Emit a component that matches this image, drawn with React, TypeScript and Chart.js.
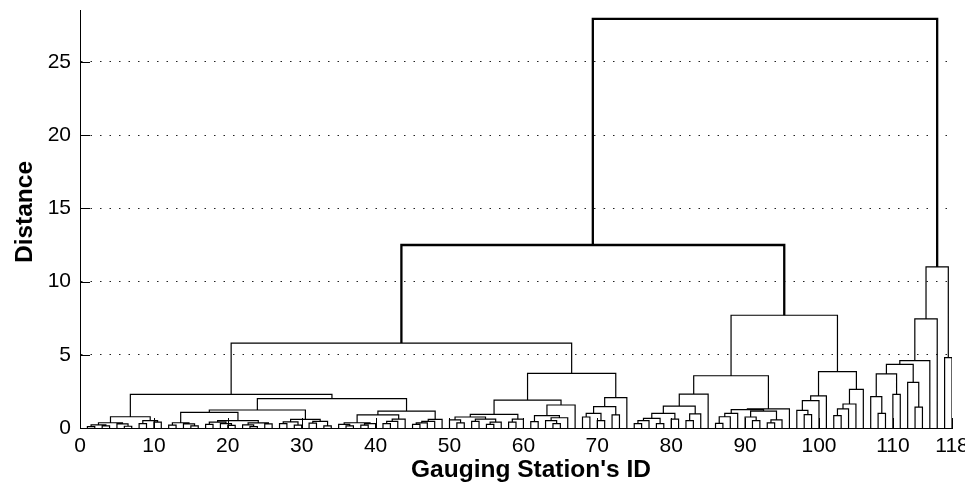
import React, { useEffect, useRef } from "react";
import { Chart, registerables } from "chart.js";

Chart.register(...registerables);

// ---- axis values ----
const xTickValues = [0, 10, 20, 30, 40, 50, 60, 70, 80, 90, 100, 110, 118];
const yTickValues = [0, 5, 10, 15, 20, 25];
const xRange = [0, 118];
const yRange = [0, 28.55];
const xTitle = "Gauging Station's ID";
const yTitle = "Distance";

// ---- dendrogram sub-clusters: [mergeHeight, left, right]; a number is a leaf (station order) ----
const clusterL1a = [0.77, [0.36, [0.22, [0.1, 1, 2], [0.15, 3, 4]], [0.28, 5, [0.12, 6, 7]]], [0.5, [0.3, 8, 9], [0.4, 10, 11]]];
const clusterL1k = [0.36, [0.2, 12, 13], [0.28, 14, [0.15, 15, 16]]];
const clusterL1l = [0.5, [0.4, [0.25, 17, 18], [0.3, 19, [0.18, 20, 21]]], [0.35, [0.22, 22, [0.1, 23, 24]], [0.28, 25, 26]]];
const clusterL1j = [0.59, [0.42, [0.3, 27, 28], [0.2, 29, 30]], [0.45, [0.33, 31, 32], [0.15, 33, 34]]];
const clusterL1g = [0.36, [0.25, 35, [0.15, 36, 37]], [0.3, [0.2, 38, 39], 40]];
const clusterL1h = [0.6, [0.45, [0.3, 41, 42], 43], 44];
const clusterL1f = [0.59, [0.45, [0.35, [0.25, 45, 46], 47], 48], 49];
const clusterN4 = [0.93, [0.75, [0.55, 50, [0.35, 51, 52]], [0.6, [0.45, 53, 54], [0.4, [0.25, 55, 56], 57]]], [0.6, [0.4, 58, 59], 60]];
const clusterN3 = [0.84, [0.43, 61, 62], [0.7, [0.5, 63, [0.3, 64, 65]], 66]];
const clusterU = [2.07, [1.46, [1.0, [0.75, 68, 69], [0.5, 70, 71]], [0.89, 72, 73]], 74];
const clusterM1a = [2.32, [1.5, [1.0, [0.66, [0.5, [0.3, 75, 76], 77], [0.3, 78, 79]], [0.6, 80, 81]], [0.96, [0.5, 82, 83], 84]], 85];
const clusterM1b = [1.3, [1.25, [1.0, [0.77, [0.32, 86, 87], 88], 89], [1.15, [0.75, 90, [0.5, 91, 92]], [0.55, [0.35, 93, 94], 95]]], 96];
const clusterM2 = [3.85, [2.2, [1.87, [1.2, 97, [0.91, 98, 99]], 100], 101], [2.64, [1.64, [1.3, [0.84, 102, 103], 104], 105], 106]];
const clusterR = [11.0, [7.45, [4.6, [4.35, [3.69, [2.14, 107, [1.0, 108, 109]], [2.3, 110, 111]], [3.12, 112, [1.43, 113, 114]]], 115], 116], [4.8, 117, 118]];

// ---- upper merges ----
const clusterL1 = [2.3, clusterL1a, [2.0, [1.23, [1.07, clusterL1k, clusterL1l], clusterL1j], [1.15, [0.89, clusterL1g, clusterL1h], clusterL1f]]];
const clusterL2 = [3.73, [1.9, clusterN4, [1.57, clusterN3, 67]], clusterU];
const dendrogramTree = [27.95, [12.5, [5.8, clusterL1, clusterL2], [7.7, [3.57, clusterM1a, clusterM1b], clusterM2]], clusterR];
const thickLinkHeight = 12;

type TreeNode = number | any[];
type Seg = { x1: number; h1: number; x2: number; h2: number; h: number };

function layoutTree(node: TreeNode, segs: Seg[]): { x: number; h: number } {
  if (typeof node === "number") return { x: node, h: 0 };
  const [h, l, r] = node as [number, TreeNode, TreeNode];
  const L = layoutTree(l, segs);
  const R = layoutTree(r, segs);
  segs.push({ x1: L.x, h1: L.h, x2: R.x, h2: R.h, h });
  return { x: (L.x + R.x) / 2, h };
}

const FONT = "'Liberation Sans', Arial, Helvetica, sans-serif";

const axisDecor = {
  id: "axisDecor",
  afterDraw(chart: any) {
    const { ctx, chartArea, scales } = chart;
    ctx.save();
    ctx.strokeStyle = "#000";
    ctx.lineWidth = 1;
    ctx.beginPath();
    for (const v of yTickValues) {
      const y = Math.round(scales.y.getPixelForValue(v)) + 0.5;
      ctx.moveTo(chartArea.left, y);
      ctx.lineTo(chartArea.left + 10, y);
    }
    for (const v of xTickValues) {
      const x = Math.round(scales.x.getPixelForValue(v)) + 0.5;
      ctx.moveTo(x, chartArea.bottom);
      ctx.lineTo(x, chartArea.bottom - 10);
    }
    ctx.stroke();

    ctx.fillStyle = "#000";
    ctx.font = `bold 24.5px ${FONT}`;
    ctx.textAlign = "center";
    ctx.textBaseline = "alphabetic";
    ctx.fillText(xTitle, (chartArea.left + chartArea.right) / 2 + 15, 476.5);

    ctx.translate(31.5, (chartArea.top + chartArea.bottom) / 2 - 7);
    ctx.rotate(-Math.PI / 2);
    ctx.fillText(yTitle, 0, 0);
    ctx.restore();
  },
};

export default function App() {
  const ref = useRef<HTMLCanvasElement>(null);

  useEffect(() => {
    const segs: Seg[] = [];
    layoutTree(dendrogramTree, segs);
    const thin: any[] = [];
    const thick: any[] = [];
    for (const s of segs) {
      const target = s.h >= thickLinkHeight ? thick : thin;
      target.push(
        { x: s.x1, y: s.h1 },
        { x: s.x1, y: s.h },
        { x: s.x2, y: s.h },
        { x: s.x2, y: s.h2 },
        { x: s.x2, y: null }
      );
    }

    const chart = new Chart(ref.current as HTMLCanvasElement, {
      type: "scatter",
      data: {
        datasets: [
          {
            data: thin,
            showLine: true,
            borderColor: "#000",
            borderWidth: 1.2,
            pointRadius: 0,
            spanGaps: false,
            borderJoinStyle: "miter",
          } as any,
          {
            data: thick,
            showLine: true,
            borderColor: "#000",
            borderWidth: 2.3,
            pointRadius: 0,
            spanGaps: false,
            borderJoinStyle: "miter",
          } as any,
        ],
      },
      options: {
        animation: false,
        responsive: false,
        devicePixelRatio: 1,
        layout: { padding: { left: 0, right: 13, top: 10, bottom: 0 } },
        plugins: { legend: { display: false }, tooltip: { enabled: false } },
        scales: {
          x: {
            type: "linear",
            min: xRange[0],
            max: xRange[1],
            grid: { display: false, drawTicks: false },
            border: { display: true, color: "#000", width: 1 },
            ticks: {
              autoSkip: false,
              maxRotation: 0,
              padding: 6,
              color: "#000",
              font: { family: FONT, size: 21 },
            },
            afterBuildTicks: (s: any) => {
              s.ticks = xTickValues.map((value) => ({ value }));
            },
            afterFit: (s: any) => {
              s.height = 55;
              s.paddingLeft = 0;
              s.paddingRight = 0;
            },
          },
          y: {
            type: "linear",
            min: yRange[0],
            max: yRange[1],
            grid: {
              drawTicks: false,
              lineWidth: 1,
              color: (c: any) => (c.tick && c.tick.value === 0 ? "rgba(0,0,0,0)" : "#222"),
            },
            border: { display: true, color: "#000", width: 1, dash: [1.5, 8] },
            ticks: {
              padding: 9,
              color: "#000",
              font: { family: FONT, size: 21 },
            },
            afterBuildTicks: (s: any) => {
              s.ticks = yTickValues.map((value) => ({ value }));
            },
            afterFit: (s: any) => {
              s.width = 80;
              s.paddingTop = 0;
              s.paddingBottom = 0;
            },
          },
        },
      } as any,
      plugins: [axisDecor],
    });
    return () => chart.destroy();
  }, []);

  return (
    <div style={{ position: "fixed", left: 0, top: 0, width: 965, height: 483, background: "#fff" }}>
      <canvas ref={ref} width={965} height={483} style={{ display: "block" }} />
    </div>
  );
}
